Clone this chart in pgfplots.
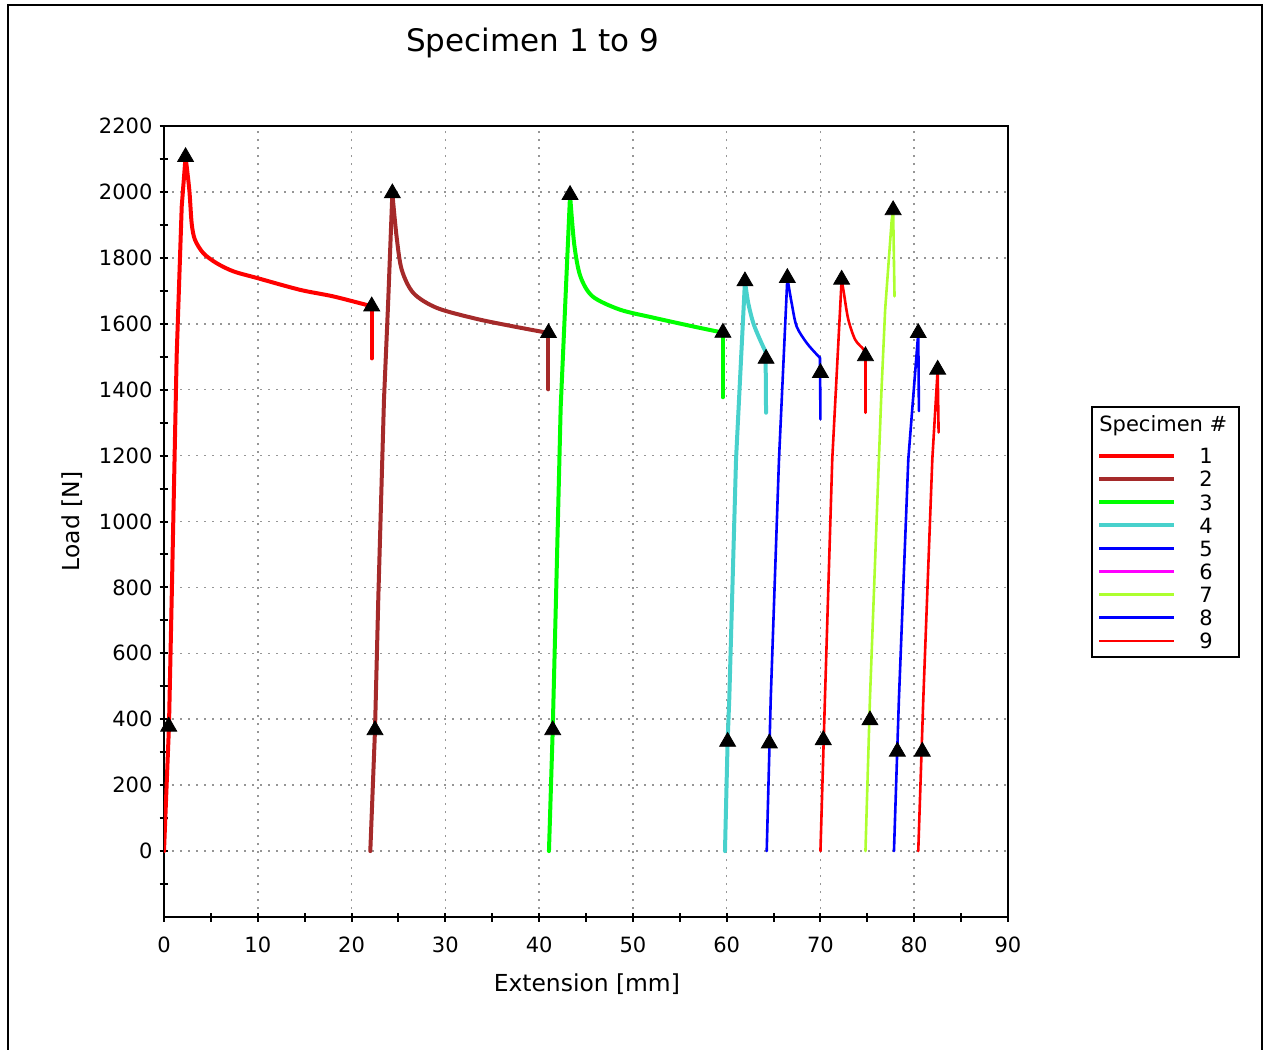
\documentclass[border=0pt]{standalone}
\usepackage{pgfplots}
\pgfplotsset{compat=1.18}
\usepackage{fontspec}
\setmainfont{DejaVu Sans}
\definecolor{c1}{RGB}{255,0,0}
\definecolor{c2}{RGB}{165,42,42}
\definecolor{c3}{RGB}{0,255,0}
\definecolor{c4}{RGB}{72,209,204}
\definecolor{c5}{RGB}{0,0,255}
\definecolor{c6}{RGB}{255,0,255}
\definecolor{c7}{RGB}{173,255,47}
\definecolor{gridc}{RGB}{150,150,150}
\pgfplotsset{
  thick1/.style={line width=2pt, line cap=round, line join=round},
  thin1/.style={line width=1.3pt, line cap=round, line join=round},
  dec/.style={smooth, tension=0.5, forget plot},
}
\begin{document}
\begin{tikzpicture}
\useasboundingbox (0pt,0pt) rectangle (632.5pt,-525pt);
\begin{axis}[
  at={(82pt,-458.5pt)}, anchor=south west,
  scale only axis, width=422pt, height=395.5pt,
  xmin=0, xmax=90, ymin=-200, ymax=2200,
  xtick={0,10,...,90}, minor xtick={5,15,...,85},
  ytick={0,200,...,2200}, minor ytick={-100,100,...,2100},
  tick pos=left, tick align=center,
  major tick length=4.5pt, minor tick length=4.5pt,
  every tick/.style={black, line width=1pt},
  axis line style={line width=1pt},
  grid=major,
  major grid style={gridc, line width=0.8pt, dash pattern=on 0.8pt off 3.2pt},
  /pgf/number format/assume math mode=true,
  /pgf/number format/set thousands separator={},
  ticklabel style={font=\fontsize{10.5}{12}\selectfont},
  xticklabel style={yshift=-4pt},
  title={Specimen 1 to 9},
  title style={at={(axis description cs:0.437,1.0898)}, anchor=center, font=\fontsize{15.5}{18}\selectfont},
  xlabel={Extension [mm]},
  xlabel style={at={(axis description cs:0.501,-0.0847)}, anchor=center, font=\fontsize{11.7}{14}\selectfont},
  ylabel={Load [N]},
  ylabel style={at={(axis description cs:-0.109,0.5)}, anchor=center, font=\fontsize{11.7}{14}\selectfont},
  legend style={at={(axis description cs:1.1055,0.5973)}, anchor=north west, draw=none, fill=none,
    inner sep=0pt, outer sep=0pt, row sep=0pt, column sep=11.7pt,
    nodes={inner sep=0pt, text depth=0pt, minimum height=11.55pt, font=\fontsize{10.5}{12}\selectfont}},
  legend cell align=left,
  legend image code/.code={\draw[#1, line cap=butt] (0pt,0pt) -- (37.5pt,0pt);},
]
% ---- Specimen 1
\addplot[c1, thick1] coordinates {(0,0) (0.53,378) (0.82,765) (1.35,1502) (1.53,1653) (1.89,1956) (2.3,2106)};
\addlegendentry{1}
\addplot[c1, thick1, dec] coordinates {
(2.3,2106) (2.7,2006) (2.95,1905) (3.3,1855) (4.2,1814) (5.6,1784) (7.4,1759) (9.9,1739)
(14.5,1703) (18.05,1683) (22.15,1653)};
\addplot[c1, thick1, forget plot] coordinates {(22.15,1653) (22.15,1495)};
% ---- Specimen 2
\addplot[c2, thick1] coordinates {(22.0,0) (22.5,367) (22.85,765) (23.46,1371) (23.9,1663) (24.35,1996)};
\addlegendentry{2}
\addplot[c2, thick1, dec] coordinates {
(24.35,1996) (24.8,1865) (25.35,1764) (26.6,1693) (29.1,1648) (33.3,1615) (37.25,1592) (41.0,1572)};
\addplot[c2, thick1, forget plot] coordinates {(41.0,1572) (41.0,1401)};
% ---- Specimen 3
\addplot[c3, thick1] coordinates {(41.05,0) (41.45,367) (41.8,765) (42.3,1346) (43.3,1991)};
\addlegendentry{3}
\addplot[c3, thick1, dec] coordinates {
(43.3,1991) (43.75,1840) (44.4,1744) (45.7,1683) (48.6,1643) (52.1,1619) (56.4,1592) (59.6,1573)};
\addplot[c3, thick1, forget plot] coordinates {(59.6,1573) (59.6,1377)};
% ---- Specimen 4
\addplot[c4, thick1] coordinates {(59.82,0) (60.1,332) (60.28,463) (61.0,1189) (61.95,1729)};
\addlegendentry{4}
\addplot[c4, thick1, dec] coordinates {
(61.95,1729) (62.3,1663) (62.84,1602) (63.55,1552) (64.15,1515)};
\addplot[c4, thick1, forget plot] coordinates {(64.15,1515) (64.2,1330)};
% ---- Specimen 5
\addplot[c5, thin1] coordinates {(64.27,0) (64.7,463) (65.58,1189) (66.47,1739)};
\addlegendentry{5}
\addplot[c5, thin1, dec] coordinates {
(66.47,1739) (66.93,1663) (67.46,1592) (68.53,1542) (69.6,1507) (69.95,1497)};
\addplot[c5, thin1, forget plot] coordinates {(69.95,1497) (70.0,1310)};
% ---- Specimen 6 (no curve drawn)
\addlegendimage{c6, line width=1.3pt}
\addlegendentry{6}
% ---- Specimen 7
\addplot[c7, thin1] coordinates {(74.8,0) (75.28,463) (76.5,1392) (76.9,1643) (77.6,1915) (77.75,1945) (77.9,1683)};
\addlegendentry{7}
% ---- Specimen 8
\addplot[c5, thin1] coordinates {(77.84,0) (78.37,463) (79.37,1189) (80.43,1572) (80.5,1335)};
\addlegendentry{8}
% ---- Specimen 9
\addplot[c1, thin1] coordinates {(80.43,0) (80.97,463) (81.93,1189) (82.5,1461) (82.6,1270)};
\addlegendentry{9}
% ---- red curve at 70 mm
\addplot[c1, thin1, forget plot] coordinates {(70.0,0) (70.48,463) (71.26,1189) (72.26,1734)};
\addplot[c1, thin1, dec] coordinates {
(72.26,1734) (72.5,1693) (72.97,1613) (73.7,1552) (74.6,1522) (74.8,1502)};
\addplot[c1, thin1, forget plot] coordinates {(74.8,1502) (74.8,1330)};
% ---- markers
\addplot[only marks, mark=triangle*, mark size=4.6pt, black, forget plot] coordinates {
(0.5,378) (2.3,2106) (22.15,1653)
(22.5,367) (24.35,1996) (41.0,1572)
(41.45,367) (43.3,1991) (59.6,1573)
(60.1,332) (61.95,1729) (64.2,1494)
(64.55,327) (66.47,1739) (70.0,1451)
(70.3,337) (72.26,1734) (74.8,1502)
(75.28,397) (77.75,1945)
(78.2,302) (80.43,1572)
(80.86,302) (82.5,1461)};
\end{axis}
\draw[line width=0.9pt] (546pt,-203.5pt) rectangle (619.5pt,-328.5pt);
\node[anchor=west, inner sep=0pt, font=\fontsize{10.5}{12}\selectfont] at (549.5pt,-213pt) {Specimen \#};
\draw[line width=1pt] (4pt,-525pt) -- (4pt,-2.5pt) -- (631pt,-2.5pt) -- (631pt,-525pt);
\end{tikzpicture}
\end{document}
